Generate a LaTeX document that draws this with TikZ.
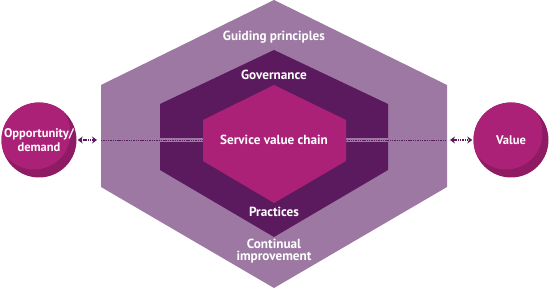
\documentclass[tikz,border=0pt]{standalone}
\usepackage{fontspec}
\setmainfont{PT Sans}
\usetikzlibrary{arrows.meta, positioning}
\definecolor{gplight}{HTML}{9C78A3}
\definecolor{govdark}{HTML}{5B1A5E}
\definecolor{svcmagenta}{HTML}{AC2178}
\definecolor{circdark}{HTML}{8E1B63}

\begin{document}
\begin{tikzpicture}[x=1pt, y=-1pt,
    lbl/.style={font=\fontsize{13.2}{12}\selectfont\bfseries, text=white,
                align=center, inner sep=0pt},
    endpoint/.style={circle, minimum size=75pt, inner sep=0pt, fill=circdark,
                     font=\fontsize{12.5}{14}\selectfont\bfseries, text=white, align=center,
                     path picture={\fill[svcmagenta]
                       ([xshift=-5pt,yshift=7pt]path picture bounding box.center) circle (36.5pt);}},
    link/.style={govdark, line width=1.1pt, dash pattern=on 1.4pt off 0.9pt,
                 {Stealth[length=5pt,width=7pt]}-{Stealth[length=5pt,width=7pt]}},
    chainline/.style={govdark, line width=0.9pt, dash pattern=on 1.4pt off 0.9pt}
]
\useasboundingbox (0,0) rectangle (550,288);

% nested hexagons
\fill[gplight] (274,0) -- (447,85) -- (447,187) -- (274,288) -- (101,187) -- (101,85) -- cycle;
\fill[govdark] (274,50) -- (388,104) -- (388,170) -- (274,237) -- (160,170) -- (160,104) -- cycle;
\fill[gplight] (160,138) rectangle (388,142);
\fill[svcmagenta] (274,85) -- (346,120) -- (346,161) -- (274,203) -- (203,161) -- (203,120) -- cycle;

\coordinate (gpL) at (101,140);
\coordinate (gpR) at (447,140);
\coordinate (svcL) at (203,140);
\coordinate (svcR) at (346,140);

\node[endpoint] (opp) at (39,140) {Opportunity/\\demand};
\node[endpoint] (val) at (511,140) {Value};

\node[lbl] (guide) at (274,37) {Guiding principles};
\node[lbl] (gov)   at (274,75) {Governance};
\node[lbl] (svc)   at (274,140) {Service value chain};
\node[lbl] (prac)  at (274,212) {Practices};
\node[lbl] (cont)  at (274,251) {Continual\\improvement};

\draw[chainline] (gpL) -- (svcL);
\draw[chainline] (svcR) -- (gpR);
\draw[link, shorten <=1pt, shorten >=4pt] (opp) -- (gpL);
\draw[link, shorten <=3pt, shorten >=1pt] (gpR) -- (val);
\end{tikzpicture}
\end{document}
